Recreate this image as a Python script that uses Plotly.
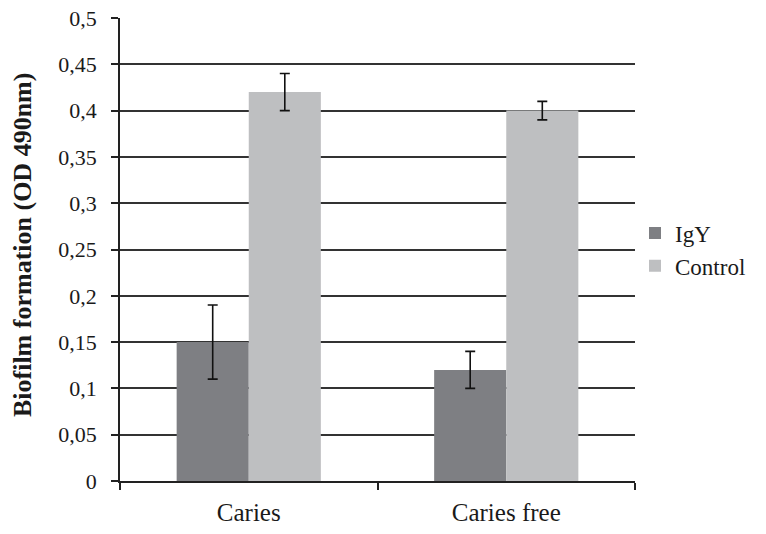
import plotly.graph_objects as go

categories = ["Caries", "Caries free"]
igy_values = [0.15, 0.12]
igy_errors = [0.04, 0.02]
control_values = [0.42, 0.40]
control_errors = [0.02, 0.01]
y_ticks = [0, 0.05, 0.1, 0.15, 0.2, 0.25, 0.3, 0.35, 0.4, 0.45, 0.5]
y_labels = ["0", "0,05", "0,1", "0,15", "0,2", "0,25", "0,3", "0,35", "0,4", "0,45", "0,5"]

font = "Liberation Serif, Times New Roman, serif"

fig = go.Figure()
fig.add_trace(go.Bar(
    name="IgY", x=categories, y=igy_values,
    marker=dict(color="#7e7f83", line_width=0),
    error_y=dict(type="data", array=igy_errors, color="#111111", thickness=1.6, width=5),
))
fig.add_trace(go.Bar(
    name="Control", x=categories, y=control_values,
    marker=dict(color="#bebfc1", line_width=0),
    error_y=dict(type="data", array=control_errors, color="#111111", thickness=1.6, width=5),
))

fig.update_layout(
    width=766, height=534,
    margin=dict(l=120, r=131, t=18, b=53),
    paper_bgcolor="white", plot_bgcolor="white",
    font=dict(family=font, size=22, color="#1a1a1a"),
    barmode="group", bargap=0.44, bargroupgap=0,
    legend=dict(x=1.0, y=0.5, xanchor="left", yanchor="middle",
                bgcolor="rgba(0,0,0,0)", font=dict(size=23), itemwidth=30),
    showlegend=True,
)
fig.update_xaxes(
    type="category", tickson="boundaries", ticks="outside", ticklen=7,
    tickcolor="#222", tickwidth=1.5, showline=True, linecolor="#222", linewidth=1.5,
    showgrid=False, tickfont=dict(size=25), ticklabelstandoff=8, automargin=False,
)
fig.update_yaxes(
    range=[0, 0.5], tickvals=y_ticks, ticktext=y_labels,
    ticks="outside", ticklen=7, tickcolor="#222", tickwidth=1.5,
    ticklabelstandoff=10, ticklabeloverflow="allow", automargin=False,
    showline=True, linecolor="#222", linewidth=1.5,
    showgrid=True, gridcolor="#333", gridwidth=1.5, zeroline=False,
)
fig.add_annotation(
    text="<b>Biofilm formation (OD 490nm)</b>", textangle=-90,
    xref="paper", yref="paper", x=-0.188, y=0.51, xanchor="center", yanchor="middle",
    showarrow=False, font=dict(size=26),
)

# drop the default body margin so the figure fills the window exactly
fig.write_html("out.html", config={"displayModeBar": False},
               post_script="document.body.style.margin = '0';")
